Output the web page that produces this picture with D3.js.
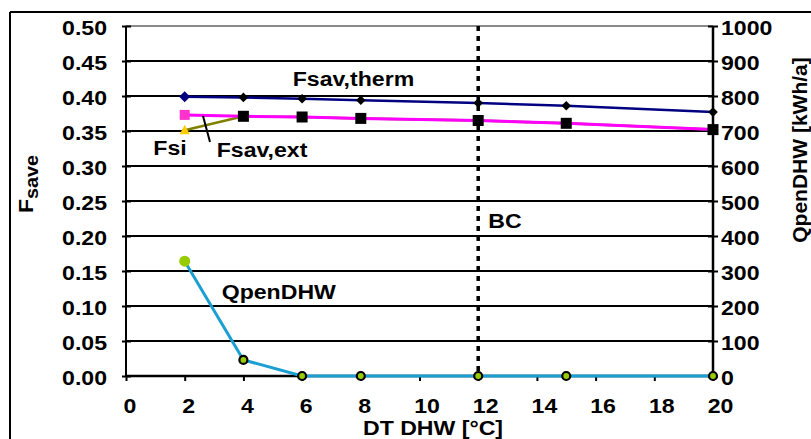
<!DOCTYPE html>
<html><head><meta charset="utf-8">
<script src="https://cdn.jsdelivr.net/npm/d3@7"></script>
<style>html,body{margin:0;padding:0;background:#fff;}svg{display:block;}</style>
</head><body>
<script>
// ---- data ----
const dtValues   = [2, 4, 6, 8, 12, 15, 20];
const fsavTherm  = [0.399, 0.398, 0.396, 0.394, 0.390, 0.386, 0.377];
const fsavExt    = [0.373, 0.371, 0.370, 0.368, 0.365, 0.361, 0.352];
const fsi        = [0.351, 0.371, 0.370, 0.368, 0.365, 0.361, 0.352];
const qpenDHW    = [328, 46, 0, 0, 0, 0, 0];
const xTickLabels = [0, 2, 4, 6, 8, 10, 12, 14, 16, 18, 20];
const yLeftTicks  = [0, 0.05, 0.10, 0.15, 0.20, 0.25, 0.30, 0.35, 0.40, 0.45, 0.50];
const yRightTicks = [0, 100, 200, 300, 400, 500, 600, 700, 800, 900, 1000];
const bcValue = 12;
const seriesLabels = ["Fsav,therm", "Fsi", "Fsav,ext", "QpenDHW", "BC"];

const W = 811, H = 439;
const svg = d3.select("body").append("svg").attr("width", W).attr("height", H);
const FONT = "'Liberation Sans', Arial, sans-serif";
const SX = 1.1;

const x = d3.scaleLinear().domain([0, 20]).range([126, 713]);
const yL = d3.scaleLinear().domain([0, 0.5]).range([376, 26]);
const yR = d3.scaleLinear().domain([0, 1000]).range([376, 26]);

function txt(xp, yp, s, size, anchor) {
  return svg.append("text")
    .attr("transform", `translate(${xp},${yp}) scale(${SX},1)`)
    .attr("text-anchor", anchor || "start")
    .attr("font-family", FONT).attr("font-weight", "bold")
    .attr("font-size", size).attr("fill", "#000").text(s);
}

// outer frame
svg.append("line").attr("x1", 10).attr("x2", W).attr("y1", 12).attr("y2", 12).attr("stroke", "#000").attr("stroke-width", 2);
svg.append("line").attr("x1", 10).attr("x2", 10).attr("y1", 12).attr("y2", H).attr("stroke", "#000").attr("stroke-width", 2);

// gridlines
svg.append("g").selectAll("line").data(yLeftTicks).join("line")
  .attr("x1", x(0)).attr("x2", x(20))
  .attr("y1", d => yL(d)).attr("y2", d => yL(d))
  .attr("stroke", d => d === 0.5 ? "#8a8a8a" : "#000")
  .attr("stroke-width", 2);

// left axis
const gL = svg.append("g").attr("transform", `translate(${x(0)},0)`)
  .call(d3.axisLeft(yL).tickValues(yLeftTicks).tickSize(4).tickFormat(""));
gL.select(".domain").remove();
gL.selectAll(".tick line").attr("x1", -4).attr("x2", 5).attr("stroke", "#000").attr("stroke-width", 2);
svg.append("line").attr("x1", x(0)).attr("x2", x(0)).attr("y1", yL(0.5)).attr("y2", yL(0)).attr("stroke", "#000").attr("stroke-width", 2);
yLeftTicks.forEach(v => txt(107, yL(v) + 9, d3.format(".2f")(v), 21, "end"));

// right axis
const gR = svg.append("g").attr("transform", `translate(${x(20)},0)`)
  .call(d3.axisRight(yR).tickValues(yRightTicks).tickSize(5).tickFormat(""));
gR.select(".domain").remove();
gR.selectAll(".tick line").attr("x1", -5).attr("x2", 5).attr("stroke", "#000").attr("stroke-width", 2);
svg.append("line").attr("x1", x(20)).attr("x2", x(20)).attr("y1", yR(1000)).attr("y2", yR(0)).attr("stroke", "#000").attr("stroke-width", 2.5);
yRightTicks.forEach(v => txt(721, yR(v) + 9, String(v), 21, "start"));

// bottom axis
const gB = svg.append("g").attr("transform", `translate(0,${yL(0)})`)
  .call(d3.axisBottom(x).tickValues(xTickLabels).tickSize(5).tickFormat(""));
gB.select(".domain").remove();
gB.selectAll(".tick line").attr("stroke", "#000").attr("stroke-width", 2);
svg.append("line").attr("x1", x(0)).attr("x2", x(20)).attr("y1", yL(0)).attr("y2", yL(0)).attr("stroke", "#000").attr("stroke-width", 2.5);
xTickLabels.forEach(v => {
  const s = String(v);
  txt(x(v) + 4 + (s.length - 1) * 3.5, 413, s, 21, "middle");
});

// BC dotted line
svg.append("line").attr("x1", x(bcValue)).attr("x2", x(bcValue))
  .attr("y1", yL(0.5)).attr("y2", yL(0))
  .attr("stroke", "#000").attr("stroke-width", 3.5).attr("stroke-dasharray", "5,5");

const idx = d3.range(dtValues.length);

// Fsav,therm
svg.append("path").datum(idx)
  .attr("d", d3.line().x(i => x(dtValues[i])).y(i => yL(fsavTherm[i])))
  .attr("fill", "none").attr("stroke", "#000080").attr("stroke-width", 2.5);
idx.forEach(i => {
  const r = i === 0 ? 5.5 : 4.8;
  svg.append("path")
    .attr("d", `M0,${-r}L${r},0L0,${r}L${-r},0Z`)
    .attr("transform", `translate(${x(dtValues[i])},${yL(fsavTherm[i])})`)
    .attr("fill", i === 0 ? "#000080" : "#000");
});

// Fsi line (olive)
svg.append("path").datum(idx)
  .attr("d", d3.line().x(i => x(dtValues[i])).y(i => yL(fsi[i])))
  .attr("fill", "none").attr("stroke", "#808000").attr("stroke-width", 2.5);

// Fsav,ext line (magenta)
svg.append("path").datum(idx)
  .attr("d", d3.line().x(i => x(dtValues[i])).y(i => yL(fsavExt[i])))
  .attr("fill", "none").attr("stroke", "#ff00ff").attr("stroke-width", 3);
svg.append("rect")
  .attr("x", x(dtValues[0]) - 5).attr("y", yL(fsavExt[0]) - 5)
  .attr("width", 10).attr("height", 10).attr("fill", "#ff33cc");

// Fsi markers
idx.slice(1).forEach(i => {
  svg.append("rect")
    .attr("x", x(dtValues[i]) - 5.5).attr("y", yL(fsi[i]) - 5.5)
    .attr("width", 11).attr("height", 11).attr("fill", "#000");
});
{
  const cx = x(dtValues[0]), cy = yL(fsi[0]);
  svg.append("path").attr("d", `M${cx},${cy - 5.5}L${cx + 5},${cy + 4}L${cx - 5},${cy + 4}Z`).attr("fill", "#ffcc00");
}

// QpenDHW
svg.append("path").datum(idx)
  .attr("d", d3.line().x(i => x(dtValues[i])).y(i => yR(qpenDHW[i])))
  .attr("fill", "none").attr("stroke", "#1a9fd2").attr("stroke-width", 3);
idx.forEach(i => {
  const c = svg.append("circle").attr("cx", x(dtValues[i])).attr("cy", yR(qpenDHW[i]));
  if (i === 0) c.attr("r", 5.5).attr("fill", "#99cc00");
  else c.attr("r", 4).attr("fill", "#99cc00").attr("stroke", "#000").attr("stroke-width", 2.2);
});

// series labels
txt(292.7, 86, seriesLabels[0], 21);
txt(153.3, 155, seriesLabels[1], 21);
txt(216.7, 157, seriesLabels[2], 21);
txt(221.7, 299, seriesLabels[3], 21);
txt(488.3, 228, seriesLabels[4], 21);
// leader line for Fsav,ext
svg.append("line").attr("x1", 203).attr("y1", 116).attr("x2", 210).attr("y2", 142).attr("stroke", "#000").attr("stroke-width", 2);

// x axis title
txt(363, 435, "DT DHW [°C]", 21);

// left axis title F_save
{
  const t = svg.append("text")
    .attr("transform", `translate(33,213) rotate(-90) scale(${SX},1)`)
    .attr("font-family", FONT).attr("font-weight", "bold").attr("font-size", 21);
  t.append("tspan").text("F");
  t.append("tspan").attr("font-size", 18).attr("dy", 5).text("save");
}
// right axis title
svg.append("text")
  .attr("transform", `translate(807,150) rotate(-90)`)
  .attr("text-anchor", "middle")
  .attr("font-family", FONT).attr("font-weight", "bold").attr("font-size", 21)
  .text("QpenDHW [kWh/a]");
</script>
</body></html>
